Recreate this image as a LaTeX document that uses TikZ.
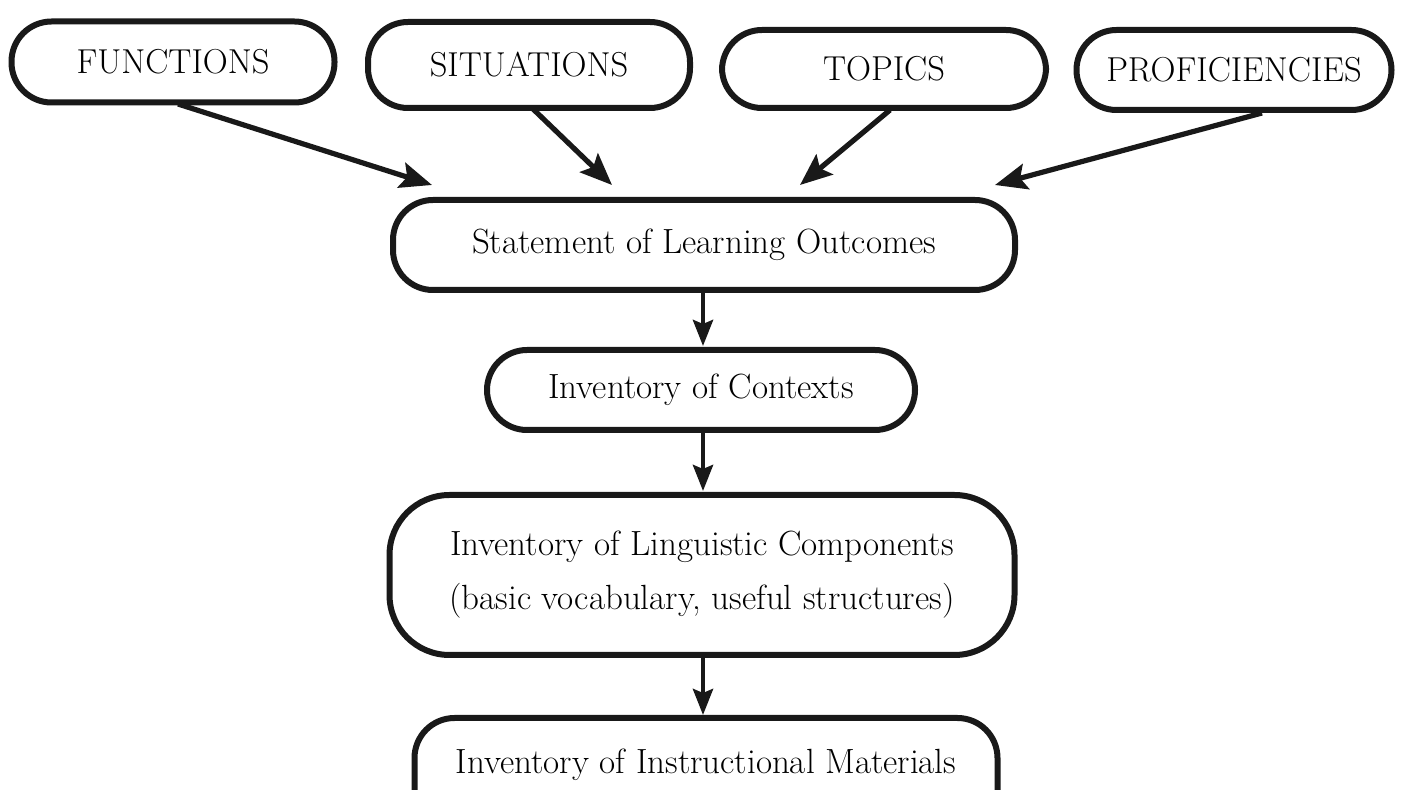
\documentclass[tikz,border=0pt]{standalone}
\usetikzlibrary{arrows.meta}
\begin{document}
\begin{tikzpicture}[x=0.5pt,y=-0.5pt,
  box/.style={draw=black!90, line width=3pt, rounded corners=20pt, fill=white,
    align=center, font=\fontsize{17.5}{27}\selectfont, inner sep=0pt},
  caps/.style={font=\fontsize{17.3}{22}\selectfont},
  flow/.style={draw=black!90, line width=2.6pt, -{Stealth[length=16pt,width=13pt,inset=3pt]}},
  vflow/.style={draw=black!90, line width=2.3pt, -{Stealth[length=13pt,width=10pt,inset=2pt]}}]
\clip (0,0) rectangle (1414,790);
\fill[white] (0,0) rectangle (1414,790);
% top row
\node[box, caps, minimum width=161.5pt, minimum height=40.5pt] (fun) at (173,62) {FUNCTIONS};
\node[box, caps, minimum width=161pt, minimum height=43pt] (sit) at (529,65) {SITUATIONS};
\node[box, caps, minimum width=162pt, minimum height=39pt] (top) at (884,69) {TOPICS};
\node[box, caps, minimum width=157.5pt, minimum height=40pt] (pro) at (1234,70) {PROFICIENCIES};
% column
\node[box, minimum width=311pt, minimum height=45pt] (slo) at (704,245) {Statement of Learning Outcomes};
\node[box, minimum width=214pt, minimum height=40pt] (ic) at (701,390) {Inventory of Contexts};
\node[box, rounded corners=30pt, minimum width=312.5pt, minimum height=80pt] (ilc) at (702,575)
  {Inventory of Linguistic Components\\(basic vocabulary, useful structures)};
\node[box, minimum width=291.5pt, minimum height=60pt] (iim) at (706,778) {};
\node[font=\fontsize{17.5}{23}\selectfont] (iimt) at (706,765) {Inventory of Instructional Materials};
% arrow end points
\coordinate (fs) at (178,104);
\coordinate (fe) at (432,185);
\coordinate (ss) at (532,108);
\coordinate (se) at (612,185);
\coordinate (ts) at (890,110);
\coordinate (te) at (800,185);
\coordinate (ps) at (1262,113);
\coordinate (pe) at (995,185);
\coordinate (v1s) at (703,290);
\coordinate (v1e) at (703,346);
\coordinate (v2s) at (703,430);
\coordinate (v2e) at (703,491);
\coordinate (v3s) at (703,655);
\coordinate (v3e) at (703,715);
\draw[flow] (fs) -- (fe);
\draw[flow] (ss) -- (se);
\draw[flow] (ts) -- (te);
\draw[flow] (ps) -- (pe);
\draw[vflow] (v1s) -- (v1e);
\draw[vflow] (v2s) -- (v2e);
\draw[vflow] (v3s) -- (v3e);
\end{tikzpicture}
\end{document}
